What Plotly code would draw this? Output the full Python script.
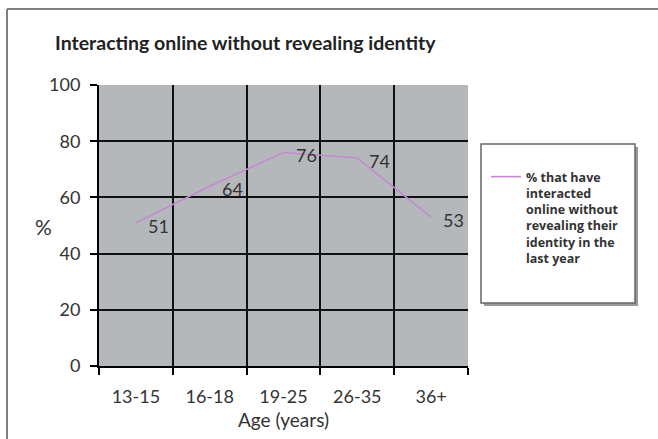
import plotly.graph_objects as go

categories = ["13-15", "16-18", "19-25", "26-35", "36+"]
values = [51, 64, 76, 74, 53]
y_ticks = [0, 20, 40, 60, 80, 100]
series_name = "% that have<br>interacted<br>online without<br>revealing their<br>identity in the<br>last year"
title_text = "Interacting online without revealing identity"

W, H = 658, 439
L, R, T, B = 99, 468, 85, 366

def px(x):
    return (x - L) / (R - L)

def py(y):
    return (B - y) / (B - T)

FONT = "Lato"
TXT = "#333333"

fig = go.Figure()
fig.add_trace(go.Scatter(
    x=categories, y=values, name=series_name,
    mode="lines",
    line=dict(color="#c48bd0", width=1.6),
    cliponaxis=False,
))

# data labels, placed at each data point through the axes
labels = [dict(x=c, y=v, xref="x", yref="y", text=str(v), showarrow=False,
               xanchor="left", yanchor="middle", xshift=10, yshift=-3,
               font=dict(family=FONT, size=18, color=TXT))
          for c, v in zip(categories, values)]

shapes = [
    # outer chart border
    dict(type="line", xref="paper", yref="paper", x0=px(7), x1=px(700), y0=py(9), y1=py(9),
         line=dict(color="#808080", width=2)),
    dict(type="line", xref="paper", yref="paper", x0=px(7), x1=px(7), y0=py(9), y1=py(480),
         line=dict(color="#808080", width=2)),
    # legend shadow and box
    dict(type="rect", xref="paper", yref="paper", x0=px(484), x1=px(638), y0=py(147), y1=py(306),
         fillcolor="#9a9a9a", line=dict(width=0), layer="below"),
    dict(type="rect", xref="paper", yref="paper", x0=px(481), x1=px(635), y0=py(144), y1=py(303),
         fillcolor="white", line=dict(color="#666666", width=1.5), layer="below"),
]

fig.update_layout(
    width=W, height=H,
    margin=dict(l=L, r=W - R, t=T, b=H - B),
    paper_bgcolor="white",
    plot_bgcolor="#b5b8ba",
    font=dict(family=FONT, color=TXT),
    title=dict(text="<b>" + title_text + "</b>", x=55 / W, xanchor="left", xref="container",
               y=1 - 43 / H, yanchor="middle", yref="container",
               font=dict(family=FONT, size=19.5, color="#222222")),
    showlegend=True,
    legend=dict(x=px(486), xanchor="left", y=py(162), yanchor="top",
                bgcolor="rgba(0,0,0,0)", borderwidth=0,
                valign="top",
                font=dict(family="Open Sans", size=12.5, color=TXT, weight="bold")),
    shapes=shapes,
    annotations=labels + [dict(text="%", xref="paper", yref="paper", x=px(43), y=py(227),
                               xanchor="center", yanchor="middle",
                               showarrow=False, font=dict(family=FONT, size=21, color=TXT))],
    xaxis=dict(type="category", categoryorder="array", categoryarray=categories,
               range=[-0.5, len(categories) - 0.5],
               tickson="boundaries", ticks="outside", ticklen=7, tickwidth=2, tickcolor="black",
               showgrid=True, gridcolor="#111111", gridwidth=1.5,
               showline=True, linecolor="black", linewidth=2,
               tickfont=dict(family=FONT, size=18, color=TXT), ticklabelstandoff=13,
               title=dict(text="Age (years)", font=dict(family=FONT, size=19, color=TXT), standoff=8),
               fixedrange=True),
    yaxis=dict(range=[0, 100], tickvals=y_ticks, ticks="outside", ticklen=7, tickwidth=2,
               tickcolor="black", showgrid=True, gridcolor="#111111", gridwidth=1.5,
               zeroline=False, showline=True, linecolor="black", linewidth=2,
               tickfont=dict(family=FONT, size=18, color=TXT), ticklabelstandoff=6,
               fixedrange=True),
)

fig.write_html("out.html", config={"displayModeBar": False},
               post_script="document.body.style.margin='0';")
